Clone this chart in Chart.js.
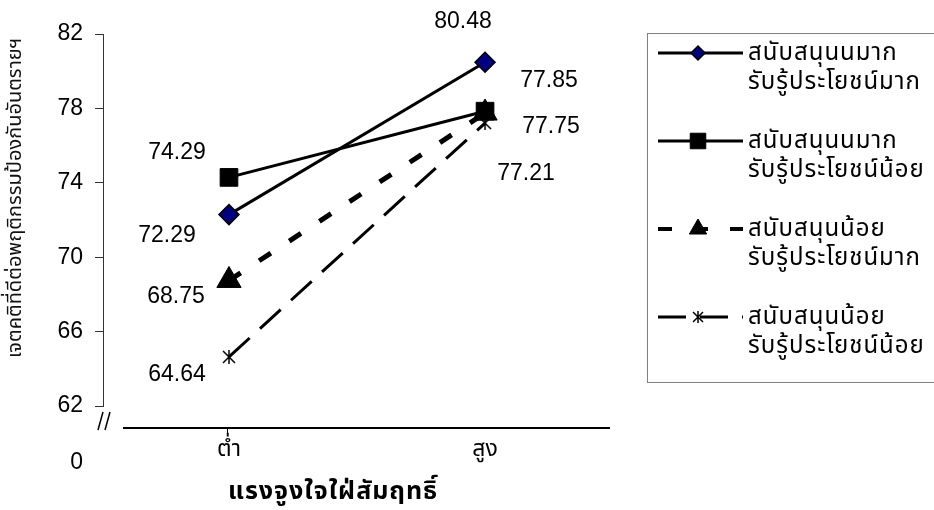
<!DOCTYPE html>
<html>
<head>
<meta charset="utf-8">
<script src="https://cdn.jsdelivr.net/npm/chart.js@4/dist/chart.umd.min.js"></script>
<style>
  html, body { margin: 0; padding: 0; background: #fff; }
  #wrap { width: 934px; height: 510px; position: relative; }
</style>
</head>
<body>
<div id="wrap"><canvas id="myChart"></canvas></div>
<script>
// categories and values
var categories = ['ต่ำ', 'สูง'];
var yTicks = [62, 66, 70, 74, 78, 82];
var yBreakLabel = '0';
var xTitle = 'แรงจูงใจใฝ่สัมฤทธิ์';
var yTitle = 'เจตคติที่ดีต่อพฤติกรรมป้องกันอันตรายฯ';

var seriesNames = [
    ['สนับสนุนนมาก', 'รับรู้ประโยชน์มาก'],
    ['สนับสนุนนมาก', 'รับรู้ประโยชน์น้อย'],
    ['สนับสนุนน้อย', 'รับรู้ประโยชน์มาก'],
    ['สนับสนุนน้อย', 'รับรู้ประโยชน์น้อย']
];
var highHigh = [72.29, 80.48];
var highLow = [74.29, 77.85];
var lowHigh = [68.75, 77.75];
var lowLow = [64.64, 77.21];

// where each value label sits relative to its point
var labelOffsets = [
    [[-62, 21], [-22, -41]],
    [[-52, -25], [64, -31]],
    [[-53, 16], [66, 14]],
    [[-52, 18], [41, 51]]
];
var legendMarkerSize = [7, 11, 10, 5];

var numFont = "'Liberation Sans', Arial, sans-serif";
var thaiFont = "'Liberation Sans', Arial, 'Noto Sans Thai', Tahoma, sans-serif";

function toPoints(values) {
    return values.map(function(v, i) { return { x: i, y: v }; });
}

// asterisk marker: an x with a vertical stroke
function makeStar(r) {
    var c = document.createElement('canvas');
    c.width = c.height = 2 * r + 2;
    var g = c.getContext('2d');
    g.strokeStyle = '#000';
    g.lineWidth = 1.5;
    g.beginPath();
    g.moveTo(1, 1); g.lineTo(2 * r + 1, 2 * r + 1);
    g.moveTo(2 * r + 1, 1); g.lineTo(1, 2 * r + 1);
    g.moveTo(r + 1, 0); g.lineTo(r + 1, 2 * r + 2);
    g.stroke();
    return c;
}
var starMarker = makeStar(6);
var starLegend = makeStar(5);

var brokenAxis = {
    id: 'brokenAxis',
    afterDraw: function(chart) {
        var ctx = chart.ctx, a = chart.chartArea, xs = chart.scales.x;
        ctx.save();
        var axisY = a.bottom + 22;
        ctx.strokeStyle = '#000';
        ctx.lineWidth = 2;
        ctx.beginPath();
        ctx.moveTo(a.left + 20, axisY);
        ctx.lineTo(a.right, axisY);
        ctx.stroke();

        ctx.lineWidth = 1;
        var tx = Math.round(xs.getPixelForValue(0)) - 1.5;
        ctx.beginPath();
        ctx.moveTo(tx, axisY);
        ctx.lineTo(tx, axisY + 6);
        ctx.stroke();

        // break marks
        ctx.lineWidth = 1.5;
        ctx.beginPath();
        ctx.moveTo(a.left - 5, axisY + 2); ctx.lineTo(a.left, axisY - 16);
        ctx.moveTo(a.left + 2, axisY + 2); ctx.lineTo(a.left + 7, axisY - 16);
        ctx.stroke();

        ctx.fillStyle = '#000';
        ctx.font = '23px ' + numFont;
        ctx.textAlign = 'right';
        ctx.textBaseline = 'middle';
        ctx.fillText(yBreakLabel, a.left - 20, axisY + 35);

        // axis titles
        ctx.textAlign = 'center';
        ctx.font = 'bold 25px ' + thaiFont;
        ctx.letterSpacing = '1px';
        ctx.fillText(xTitle, 333, 492);

        ctx.translate(15, 198);
        ctx.rotate(-Math.PI / 2);
        ctx.font = '20px ' + thaiFont;
        ctx.letterSpacing = '0px';
        ctx.fillStyle = '#111';
        ctx.fillText(yTitle, 0, 0);
        ctx.restore();
    }
};

var valueLabels = {
    id: 'valueLabels',
    afterDatasetsDraw: function(chart) {
        var ctx = chart.ctx;
        ctx.save();
        ctx.fillStyle = '#000';
        ctx.font = '23px ' + numFont;
        ctx.textAlign = 'center';
        ctx.textBaseline = 'middle';
        chart.data.datasets.forEach(function(ds, i) {
            var meta = chart.getDatasetMeta(i);
            meta.data.forEach(function(pt, j) {
                var off = labelOffsets[i][j];
                ctx.fillText(ds.data[j].y.toFixed(2), pt.x + off[0], pt.y + off[1]);
            });
        });
        ctx.restore();
    }
};

var boxLegend = {
    id: 'boxLegend',
    afterDraw: function(chart) {
        var ctx = chart.ctx, a = chart.chartArea;
        var left = a.right + 37, top = 33;
        ctx.save();
        ctx.strokeStyle = '#808080';
        ctx.lineWidth = 1;
        ctx.strokeRect(left + 0.5, top + 0.5, 400, 349);

        chart.data.datasets.forEach(function(ds, i) {
            var y = 53 + i * 88;
            ctx.strokeStyle = '#000';
            ctx.lineWidth = Math.min(ds.borderWidth, 4);
            ctx.setLineDash(ds.borderDash || []);
            ctx.beginPath();
            ctx.moveTo(left + 11, y);
            ctx.lineTo(left + 96, y);
            ctx.stroke();
            ctx.setLineDash([]);

            ctx.fillStyle = ds.pointBackgroundColor;
            ctx.strokeStyle = ds.pointBorderColor;
            ctx.lineWidth = ds.pointBorderWidth;
            var style = ds.pointStyle === starMarker ? starLegend : ds.pointStyle;
            Chart.helpers.drawPoint(ctx, {
                pointStyle: style,
                radius: legendMarkerSize[i],
                rotation: 0,
                borderWidth: ds.pointBorderWidth
            }, left + 51, y);

            ctx.fillStyle = '#000';
            ctx.font = '24px ' + thaiFont;
            ctx.letterSpacing = '1px';
            ctx.textAlign = 'left';
            ctx.textBaseline = 'middle';
            ctx.fillText(seriesNames[i][0], left + 101, y);
            ctx.fillText(seriesNames[i][1], left + 101, y + 29);
        });
        ctx.restore();
    }
};

document.addEventListener('DOMContentLoaded', function() {
    "use strict";

    var ctx = document.getElementById('myChart').getContext('2d');
    var chart = new Chart(ctx, {
        type: 'line',
        data: {
            datasets: [{
                label: seriesNames[0].join(' '),
                data: toPoints(highHigh),
                borderColor: '#000',
                borderWidth: 3,
                pointStyle: 'rectRot',
                pointRadius: 10,
                pointBackgroundColor: '#000080',
                pointBorderColor: '#000',
                pointBorderWidth: 1.5,
                order: 3
            },
            {
                label: seriesNames[1].join(' '),
                data: toPoints(highLow),
                borderColor: '#000',
                borderWidth: 3,
                pointStyle: 'rect',
                pointRadius: 12.5,
                pointBackgroundColor: '#000',
                pointBorderColor: '#000',
                pointBorderWidth: 1,
                order: 2
            },
            {
                label: seriesNames[2].join(' '),
                data: toPoints(lowHigh),
                borderColor: '#000',
                borderWidth: 5,
                borderDash: [14, 22],
                pointStyle: 'triangle',
                pointRadius: 14,
                pointBackgroundColor: '#000',
                pointBorderColor: '#000',
                pointBorderWidth: 1,
                order: 1
            },
            {
                label: seriesNames[3].join(' '),
                data: toPoints(lowLow),
                borderColor: '#000',
                borderWidth: 3,
                borderDash: [28, 14],
                pointStyle: starMarker,
                pointRadius: 6,
                pointBackgroundColor: '#000',
                pointBorderColor: '#000',
                pointBorderWidth: 1.5,
                order: 0
            }]
        },
        options: {
            responsive: true,
            maintainAspectRatio: false,
            animation: false,
            clip: false,
            layout: { padding: { top: 34, right: 324, left: 0, bottom: 0 } },
            plugins: {
                legend: { display: false },
                tooltip: { enabled: false }
            },
            scales: {
                x: {
                    type: 'linear',
                    min: -0.492,
                    max: 1.488,
                    afterBuildTicks: function(scale) {
                        scale.ticks = categories.map(function(c, i) { return { value: i }; });
                    },
                    afterFit: function(scale) { scale.height = 104; },
                    ticks: {
                        padding: 30,
                        color: '#000',
                        font: { size: 23, family: thaiFont },
                        callback: function(v) { return categories[v]; }
                    },
                    grid: { display: false, drawTicks: false },
                    border: { display: false }
                },
                y: {
                    min: 62,
                    max: 82,
                    afterBuildTicks: function(scale) {
                        scale.ticks = yTicks.map(function(v) { return { value: v }; });
                    },
                    afterFit: function(scale) { scale.width = 103; },
                    ticks: {
                        padding: 12,
                        color: '#000',
                        font: { size: 23, family: numFont }
                    },
                    grid: {
                        drawOnChartArea: false,
                        drawTicks: true,
                        tickLength: 8,
                        color: '#333'
                    },
                    border: { display: true, color: '#333', width: 1 }
                }
            }
        },
        plugins: [brokenAxis, valueLabels, boxLegend]
    });
});
</script>
</body>
</html>
